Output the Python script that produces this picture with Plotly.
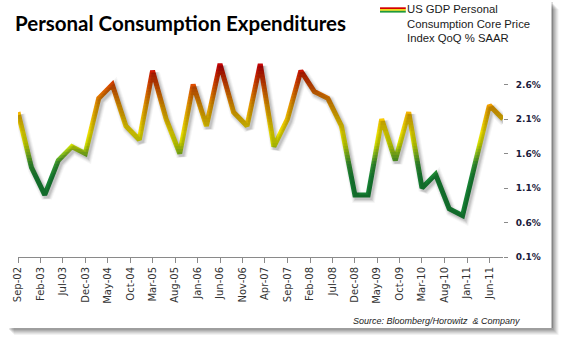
import numpy as np
import pandas as pd
import plotly.graph_objects as go

# Quarterly core PCE price index, QoQ % SAAR
quarters = [
    "2002-09-01", "2002-12-01", "2003-03-01", "2003-06-01", "2003-09-01", "2003-12-01",
    "2004-03-01", "2004-06-01", "2004-09-01", "2004-12-01", "2005-03-01", "2005-06-01",
    "2005-09-01", "2005-12-01", "2006-03-01", "2006-06-01", "2006-09-01", "2006-12-01",
    "2007-03-01", "2007-06-01", "2007-09-01", "2007-12-01", "2008-03-01", "2008-06-01",
    "2008-09-01", "2008-12-01", "2009-03-01", "2009-06-01", "2009-09-01", "2009-12-01",
    "2010-03-01", "2010-06-01", "2010-09-01", "2010-12-01", "2011-03-01", "2011-06-01",
    "2011-09-01",
]
pce_core = [
    2.2, 1.4, 1.0, 1.5, 1.7, 1.6,
    2.4, 2.6, 2.0, 1.8, 2.8, 2.1,
    1.6, 2.6, 2.0, 2.9, 2.2, 2.0,
    2.9, 1.7, 2.1, 2.8, 2.5, 2.4,
    2.0, 1.0, 1.0, 2.1, 1.5, 2.2,
    1.1, 1.3, 0.8, 0.7, 1.5, 2.3,
    2.1,
]

y_tickvals = [0.1, 0.6, 1.1, 1.6, 2.1, 2.6]
y_ticktext = ["0.1%", "0.6%", "1.1%", "1.6%", "2.1%", "2.6%"]

series_name = "US GDP Personal<br>Consumption Core Price<br>Index QoQ % SAAR"
title_text = "Personal Consumption Expenditures"
source_text = "Source: Bloomberg/Horowitz  &amp; Company"

# ---- page geometry (pixels) ----
W, H = 566, 342
L, R, T, B = 14, 63, 57, 85
PW = W - L - R
PH = H - T - B
Y_MIN, Y_MAX = 0.1, 3.0
X_START, X_END = "2002-09-01", "2011-09-01"


def px_x(px):
    return (px - L) / PW


def px_y(py):
    return (H - B - py) / PH


# value -> colour ramp: green (low) through yellow to red (high)
ramp_vals = [0.5, 1.25, 1.45, 1.6, 1.75, 1.9, 2.1, 2.3, 2.5, 2.7, 2.85, 3.0]
ramp_cols = ["#178a3a", "#1a8c3a", "#3a9e34", "#94cc20", "#e4ee00", "#fff000",
             "#f8c800", "#f2a000", "#e86a00", "#d83000", "#c80808", "#c00000"]


def hex_rgb(h):
    h = h.lstrip("#")
    return [int(h[i:i + 2], 16) for i in (0, 2, 4)]


ramp_rgb = np.array([hex_rgb(c) for c in ramp_cols], dtype=float)


def color_at(v):
    r, g, b = (np.interp(v, ramp_vals, ramp_rgb[:, i]) for i in range(3))
    return f"rgb({int(round(r))},{int(round(g))},{int(round(b))})"


fig = go.Figure()
layout_axes = {}

# soft drop shadow under the line, drawn on axes nudged right/down
x0_ts, x1_ts = pd.Timestamp(X_START), pd.Timestamp(X_END)
ms_per_px = (x1_ts - x0_ts) / PW
sx, sy = 2.0, 2.5
shift_x = [str(x0_ts - ms_per_px * sx), str(x1_ts - ms_per_px * sx)]
units_per_px = (Y_MAX - Y_MIN) / PH
shift_y = [Y_MIN + units_per_px * sy, Y_MAX + units_per_px * sy]
for w, a in [(11, 0.035), (9, 0.05), (7, 0.08), (5, 0.09)]:
    fig.add_trace(go.Scatter(
        x=quarters, y=pce_core, mode="lines", xaxis="x2", yaxis="y3",
        line=dict(color=f"rgba(0,0,0,{a})", width=w, simplify=False),
        hoverinfo="skip", showlegend=False,
    ))
layout_axes["xaxis2"] = dict(overlaying="x", type="date", range=shift_x, visible=False)
layout_axes["yaxis3"] = dict(overlaying="y", range=shift_y, visible=False)

# right-hand tick labels
fig.add_trace(go.Scatter(
    x=quarters, y=pce_core, mode="markers", yaxis="y2",
    marker=dict(opacity=0, size=1), hoverinfo="skip", showlegend=False,
))
layout_axes["yaxis2"] = dict(
    overlaying="y", side="right", range=[Y_MIN, Y_MAX],
    tickmode="array", tickvals=y_tickvals, ticktext=y_ticktext,
    ticks="outside", ticklen=4, tickcolor="#8a8a8a",
    showgrid=False, showline=False, zeroline=False,
    ticklabelstandoff=6,
    tickfont=dict(family="DejaVu Sans", size=9, color="#1a1a3a", weight="bold"),
)

# gradient line: the series drawn in thin horizontal bands, each clipped
# to its own slice of the plot and coloured by its value level
band_px = 3
num = 4
for p0 in range(36, PH, band_px):
    p1 = min(p0 + band_px, PH)
    v0 = Y_MIN + p0 * units_per_px
    v1 = Y_MIN + p1 * units_per_px
    layout_axes[f"yaxis{num}"] = dict(
        domain=[p0 / PH, p1 / PH], range=[v0, v1], anchor="x",
        visible=False, showgrid=False, zeroline=False,
    )
    fig.add_trace(go.Scatter(
        x=quarters, y=pce_core, mode="lines", xaxis="x", yaxis=f"y{num}",
        line=dict(color=color_at((v0 + v1) / 2), width=5, simplify=False),
        hoverinfo="skip", showlegend=False,
    ))
    num += 1

# chart frame with a soft shadow
shapes = []
for k, a in [(7, 0.05), (6, 0.06), (5, 0.07), (4, 0.08), (3, 0.09), (2, 0.10)]:
    shapes.append(dict(
        type="rect", xref="paper", yref="paper", layer="below",
        x0=px_x(3 + k), x1=px_x(552 + k), y0=px_y(328 + k), y1=px_y(2 + k),
        line=dict(width=0), fillcolor=f"rgba(0,0,0,{a})",
    ))
shapes.append(dict(
    type="rect", xref="paper", yref="paper", layer="below",
    x0=px_x(0), x1=px_x(552), y0=px_y(328), y1=px_y(0),
    line=dict(width=0), fillcolor="white",
))
shapes.append(dict(
    type="line", xref="paper", yref="paper", layer="below",
    x0=px_x(552.5), x1=px_x(552.5), y0=px_y(328), y1=px_y(2),
    line=dict(width=1, color="rgba(0,0,0,0.25)"),
))

# legend swatch: red / yellow / green stripes
for (ya, yb), col in [((7.3, 9.1), "#d40000"), ((9.1, 10.8), "#f0d800"), ((10.8, 12.6), "#1f9a3a")]:
    shapes.append(dict(
        type="rect", xref="paper", yref="paper",
        x0=px_x(379), x1=px_x(405), y0=px_y(yb), y1=px_y(ya),
        line=dict(width=0), fillcolor=col,
    ))

annotations = [
    dict(text=title_text, xref="paper", yref="paper", x=px_x(9), y=px_y(23),
         xanchor="left", yanchor="middle", showarrow=False,
         font=dict(family="Lato", size=20.5, color="black", weight="bold")),
    dict(text=series_name, xref="paper", yref="paper", x=px_x(404), y=px_y(1),
         xanchor="left", yanchor="top", showarrow=False, align="left",
         font=dict(family="Liberation Sans", size=11.3, color="#1a1a1a")),
    dict(text=source_text, xref="paper", yref="paper", x=px_x(350), y=px_y(321),
         xanchor="left", yanchor="middle", showarrow=False,
         font=dict(family="Liberation Sans", size=9, color="#222222", style="italic")),
]

fig.update_layout(
    width=W, height=H,
    margin=dict(l=L, r=R, t=T, b=B, pad=0),
    paper_bgcolor="white", plot_bgcolor="rgba(0,0,0,0)",
    showlegend=False,
    xaxis=dict(
        type="date", range=[X_START, X_END],
        tick0=X_START, dtick="M5", tickformat="%b-%y", tickangle=-90,
        ticks="outside", ticklen=5, tickcolor="#8a8a8a",
        showline=True, linecolor="#8a8a8a", linewidth=1,
        showgrid=False, zeroline=False,
        tickfont=dict(family="DejaVu Sans", size=10, color="#333333"),
    ),
    yaxis=dict(
        range=[Y_MIN, Y_MAX], side="left",
        tickmode="array", tickvals=y_tickvals, showticklabels=False, ticks="",
        showline=True, linecolor="#8a8a8a", linewidth=1,
        showgrid=True, gridcolor="#8a8a8a", gridwidth=1, zeroline=False,
    ),
    shapes=shapes,
    annotations=annotations,
    **layout_axes,
)

fig.write_html("out.html")
